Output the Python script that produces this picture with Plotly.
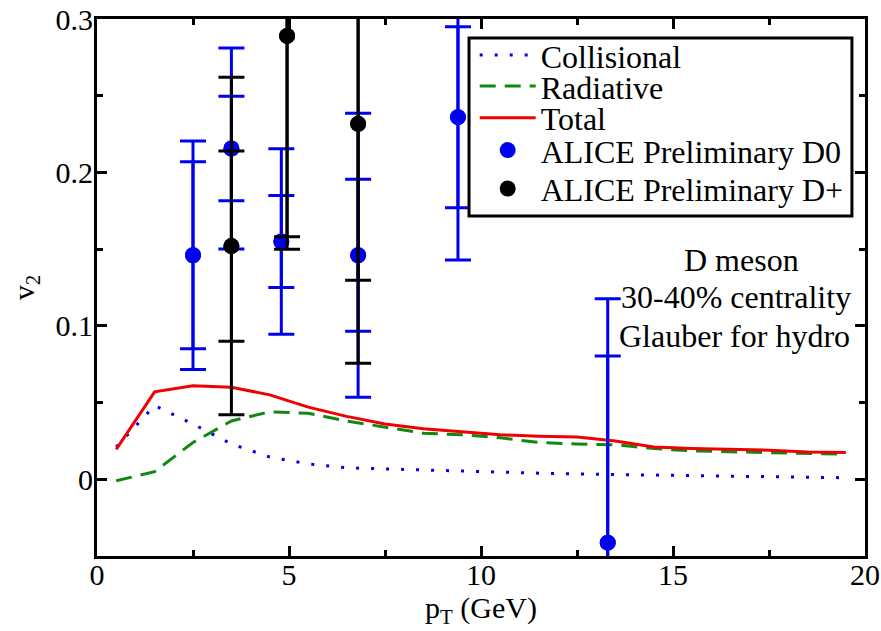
import plotly.graph_objects as go

# ---- model curves ----
pt_model = [0.5, 1.5, 2.5, 3.5, 4.5, 5.5, 6.5, 7.5, 8.5, 9.5, 10.5, 11.5, 12.5, 13.5, 14.5, 15.5, 16.5, 17.5, 18.5, 19.5]
v2_collisional = [0.021, 0.048, 0.036, 0.023, 0.0145, 0.010, 0.0075, 0.0068, 0.006, 0.005, 0.0045, 0.004, 0.0035, 0.003, 0.0028, 0.0025, 0.002, 0.0017, 0.0013, 0.001]
v2_radiative = [-0.001, 0.005, 0.024, 0.038, 0.044, 0.043, 0.038, 0.034, 0.030, 0.029, 0.027, 0.024, 0.023, 0.0225, 0.020, 0.0185, 0.018, 0.0175, 0.0168, 0.0163]
v2_total = [0.0195, 0.057, 0.061, 0.060, 0.055, 0.047, 0.041, 0.036, 0.033, 0.031, 0.029, 0.028, 0.0275, 0.025, 0.021, 0.020, 0.0195, 0.019, 0.0178, 0.0174]

# ---- ALICE data ----
d0_pt = [2.5, 3.5, 4.8, 6.8, 9.4, 13.3]
d0_v2 = [0.146, 0.2156, 0.155, 0.146, 0.236, -0.0413]
d0_err_stat = [0.061, 0.034, 0.030, 0.0495, 0.059, 0.1216]
d0_err_syst = [0.0745, 0.0655, 0.0605, 0.0925, 0.093, 0.159]

dp_pt = [3.5, 4.95, 6.8]
dp_v2 = [0.152, 0.289, 0.2317]
dp_err_stat = [0.062, 0.131, 0.102]
dp_err_syst = [0.11, 0.139, 0.156]

x_ticks = [0, 5, 10, 15, 20]
y_ticks = [0, 0.1, 0.2, 0.3]

FONT = "'Liberation Serif', 'Times New Roman', 'DejaVu Serif', serif"
BLUE = "#0000f0"
GREEN = "#118811"
RED = "#f00000"

fig = go.Figure()

fig.add_trace(go.Scatter(x=pt_model, y=v2_collisional, mode="lines", name="Collisional", legend="legend",
                         line=dict(color=BLUE, width=3, dash="3px,12px")))
fig.add_trace(go.Scatter(x=pt_model, y=v2_radiative, mode="lines", name="Radiative", legend="legend2",
                         line=dict(color=GREEN, width=3, dash="16px,9px")))
fig.add_trace(go.Scatter(x=pt_model, y=v2_total, mode="lines", name="Total", legend="legend3",
                         line=dict(color=RED, width=3)))

# D0: two error bar levels
fig.add_trace(go.Scatter(x=d0_pt, y=d0_v2, mode="markers", showlegend=False,
                         marker=dict(color=BLUE, size=16),
                         error_y=dict(type="data", array=d0_err_syst, color=BLUE, thickness=3, width=13)))
fig.add_trace(go.Scatter(x=d0_pt, y=d0_v2, mode="markers", name="ALICE Preliminary D0", legend="legend4",
                         marker=dict(color=BLUE, size=16),
                         error_y=dict(type="data", array=d0_err_stat, color=BLUE, thickness=3, width=13)))
# D+
fig.add_trace(go.Scatter(x=dp_pt, y=dp_v2, mode="markers", showlegend=False,
                         marker=dict(color="black", size=16),
                         error_y=dict(type="data", array=dp_err_syst, color="black", thickness=3, width=13)))
fig.add_trace(go.Scatter(x=dp_pt, y=dp_v2, mode="markers", name="ALICE Preliminary D+", legend="legend5",
                         marker=dict(color="black", size=16),
                         error_y=dict(type="data", array=dp_err_stat, color="black", thickness=3, width=13)))

axis_common = dict(
    showline=True, linecolor="black", linewidth=3, mirror="allticks",
    ticks="inside", ticklen=10, tickwidth=3, tickcolor="black",
    showgrid=False, zeroline=False,
    tickfont=dict(family=FONT, size=30, color="black"),
)

fig.update_xaxes(range=[0, 20], tickvals=x_ticks, ticktext=[str(v) for v in x_ticks],
                 ticklabelstandoff=-10,
                 minor=dict(dtick=2.5, ticklen=6, tickwidth=3, tickcolor="black", ticks="inside"),
                 title=dict(text="p<sub>T</sub> (GeV)", font=dict(family=FONT, size=30, color="black"), standoff=5),
                 **axis_common)
fig.update_yaxes(range=[-0.05, 0.3], tickvals=y_ticks, ticktext=["0", "0.1", "0.2", "0.3"],
                 ticklabelstandoff=-5,
                 minor=dict(dtick=0.05, ticklen=6, tickwidth=3, tickcolor="black", ticks="inside"),
                 title=dict(text="v<sub>2</sub>", font=dict(family=FONT, size=30, color="black"), standoff=13),
                 **axis_common)

fig.add_annotation(x=16.79, y=0.1427, xref="x", yref="y", text="D meson", showarrow=False,
                   font=dict(family=FONT, size=32, color="black"))
fig.add_annotation(x=16.64, y=0.1186, xref="x", yref="y", text="30-40% centrality", showarrow=False,
                   font=dict(family=FONT, size=32, color="black"))
fig.add_annotation(x=16.6, y=0.0932, xref="x", yref="y", text="Glauber for hydro", showarrow=False,
                   font=dict(family=FONT, size=32, color="black"))

# legend frame (white box with black border, over the data like the original)
fig.add_shape(type="rect", xref="paper", yref="paper", x0=0.4844, x1=0.983, y0=0.6331, y1=0.9646,
              line=dict(color="black", width=3), fillcolor="white", layer="above")

leg_font = dict(family=FONT, size=32, color="black")
leg_x = 0.4918
leg_rows = [0.9324, 0.8747, 0.8156, 0.7555, 0.6840]
legend_kw = {}
for i, yy in enumerate(leg_rows):
    key = "legend" if i == 0 else f"legend{i + 1}"
    legend_kw[key] = dict(x=leg_x, y=yy, xanchor="left", yanchor="middle",
                          bgcolor="rgba(0,0,0,0)", borderwidth=0,
                          font=leg_font, itemwidth=56)

fig.update_layout(
    width=881, height=631,
    margin=dict(l=97, r=16, t=19, b=75, autoexpand=False),
    paper_bgcolor="white", plot_bgcolor="white",
    font=dict(family=FONT, size=30, color="black"),
    **legend_kw,
)

fig.write_html("out.html")
